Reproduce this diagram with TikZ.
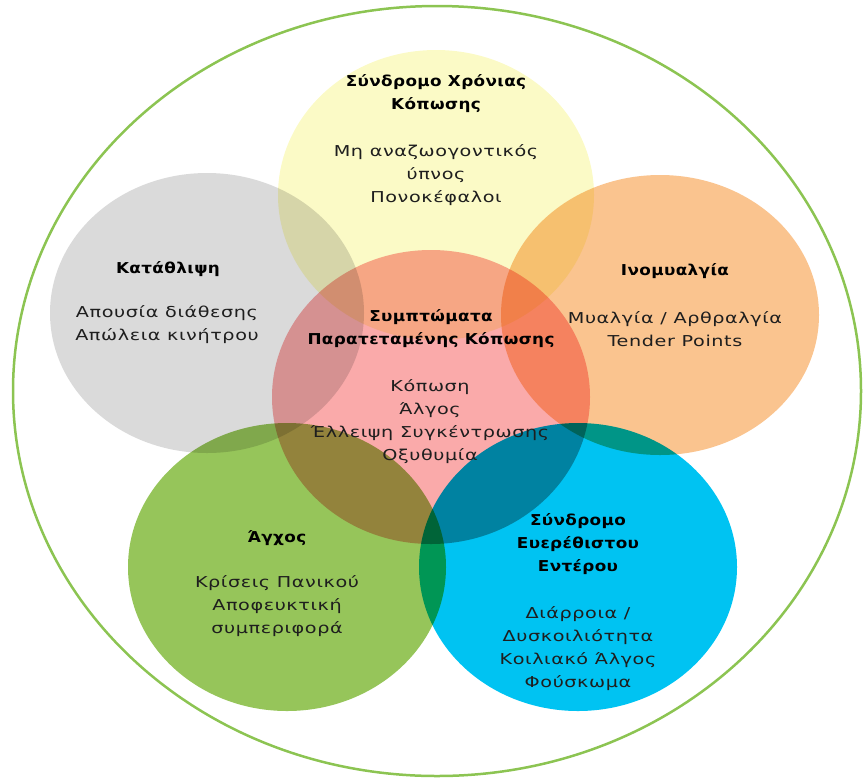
\documentclass[tikz,border=0pt]{standalone}
\usepackage{fontspec}
\setmainfont{DejaVu Sans}[FakeStretch=1.28, LetterSpace=4]
\newfontfamily\headfont{DejaVu Sans}[FakeStretch=1.12, LetterSpace=2.5]
\definecolor{ringgreen}{RGB}{140,196,82}
\definecolor{cfsyellow}{RGB}{251,250,198}
\definecolor{depgray}{RGB}{218,218,218}
\definecolor{fiborange}{RGB}{250,196,143}
\definecolor{corepink}{RGB}{250,170,170}
\definecolor{anxgreen}{RGB}{150,197,90}
\definecolor{ibsblue}{RGB}{0,195,242}
\definecolor{txt}{RGB}{30,30,30}

\begin{document}
\begin{tikzpicture}[x=1pt,y=-1pt]
\tikzstyle{every node}+=[inner sep=0pt, align=center, text=txt,
  font=\fontsize{15}{23}\selectfont]
\tikzstyle{head}=[text=black, font=\fontsize{15}{23}\selectfont\headfont\bfseries]
\useasboundingbox (0,0) rectangle (864,780);
\draw [ringgreen, line width=2.5] (437,391) ellipse (424 and 385);
\begin{scope}[blend group=multiply]
  \fill [cfsyellow] (436,195) ellipse (158 and 145);
  \fill [depgray] (207,313) ellipse (157 and 140);
  \fill [fiborange] (660,315) ellipse (159 and 140);
  \fill [corepink] (431,397) ellipse (159 and 147);
  \fill [anxgreen] (287,567) ellipse (159 and 144);
  \fill [ibsblue] (578,567) ellipse (159 and 144);
\end{scope}
\node [head] (cfs) at (436,94) {Σύνδρομο Χρόνιας\\Κόπωσης};
\node (cfs-list) at (436,175) {Μη αναζωογοντικός\\ύπνος\\Πονοκέφαλοι};
\node [head] (dep) at (168,269) {Κατάθλιψη};
\node (dep-list) at (167,325) {Απουσία διάθεσης\\Απώλεια κινήτρου};
\node [head] (fib) at (675,271) {Ινομυαλγία};
\node (fib-list) at (675,329) {Μυαλγία / Αρθραλγία\\Tender Points};
\node [head] (core) at (431,329) {Συμπτώματα\\Παρατεταμένης Κόπωσης};
\node (core-list) at (430,422) {Κόπωση\\Άλγος\\Έλλειψη Συγκέντρωσης\\Οξυθυμία};
\node [head] (anx) at (277,538) {Άγχος};
\node (anx-list) at (277,606) {Κρίσεις Πανικού\\Αποφευκτική\\συμπεριφορά};
\node [head] (ibs) at (578,544) {Σύνδρομο\\Ευερέθιστου\\Εντέρου};
\node (ibs-list) at (578,649) {Διάρροια /\\Δυσκοιλιότητα\\Κοιλιακό Άλγος\\Φούσκωμα};
\end{tikzpicture}
\end{document}
